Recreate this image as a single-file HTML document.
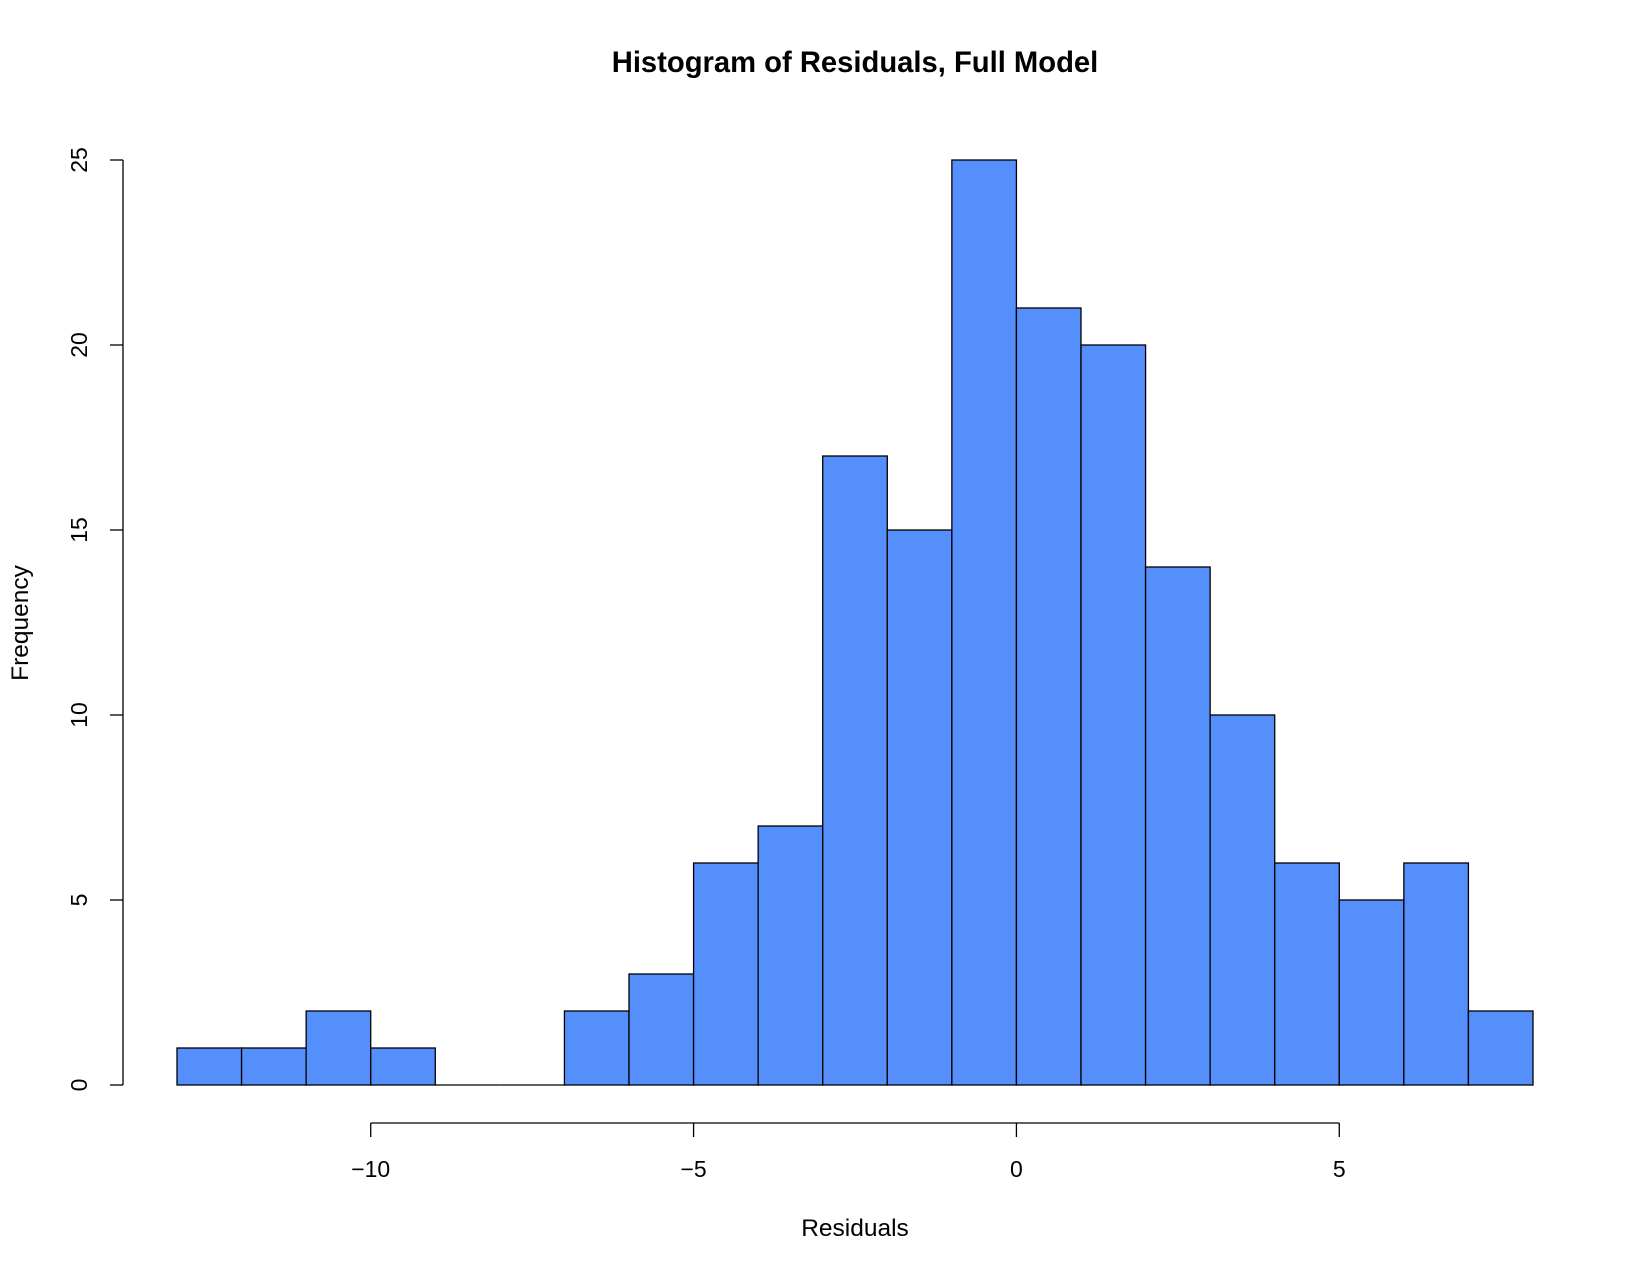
<!DOCTYPE html>
<html><head><meta charset="utf-8"><style>
body{margin:0;background:#fff}
svg text{font-family:"Liberation Sans",Arial,sans-serif;fill:#000}
</style></head><body>
<svg width="1650" height="1275" xmlns="http://www.w3.org/2000/svg">
<rect width="1650" height="1275" fill="#fff"/>
<text x="855" y="72" text-anchor="middle" font-size="29.2" font-weight="bold">Histogram of Residuals, Full Model</text>
<g id="bars"></g>
<g id="yaxis"></g>
<g id="xaxis"></g>
<text x="855" y="1236" text-anchor="middle" font-size="24.5">Residuals</text>
<text transform="translate(28,623) rotate(-90)" text-anchor="middle" font-size="24.5">Frequency</text>
</svg>
<script>
const binStart = -13;
const binWidth = 1;
const counts = [1,1,2,1,0,0,2,3,6,7,17,15,25,21,20,14,10,6,5,6,2];
const yTicks = [0,5,10,15,20,25];
const xTicks = [-10,-5,0,5];
const xTickLabels = ["\u221210","\u22125","0","5"];

const NS="http://www.w3.org/2000/svg";
const X0=177, X1=1533, xmin=-13, xmax=8;
const Y0=1085, Y1=160, ymax=25;
const sx=v=>X0+(v-xmin)*(X1-X0)/(xmax-xmin);
const sy=v=>Y0-v*(Y0-Y1)/ymax;
function mk(tag,attrs,parent){const e=document.createElementNS(NS,tag);for(const k in attrs)e.setAttribute(k,attrs[k]);parent.appendChild(e);return e;}
const bars=document.getElementById('bars');
counts.forEach((c,i)=>{
  const a=binStart+i*binWidth,b=a+binWidth;
  let r;
  if(c===0){
    r=mk('line',{x1:sx(a),x2:sx(b),y1:sy(0),y2:sy(0),stroke:'#000','stroke-width':1.3},bars);
  } else {
    r=mk('rect',{x:sx(a),y:sy(c),width:sx(b)-sx(a),height:sy(0)-sy(c),fill:'#558ffc',stroke:'#000','stroke-width':1.3},bars);
  }
  
  
});
const ya=document.getElementById('yaxis');
mk('line',{x1:123,x2:123,y1:sy(0),y2:sy(25),stroke:'#000','stroke-width':1.3},ya);
yTicks.forEach(t=>{
  mk('line',{x1:110,x2:123,y1:sy(t),y2:sy(t),stroke:'#000','stroke-width':1.3},ya);
  const tx=mk('text',{transform:`translate(87,${sy(t)}) rotate(-90)`,'text-anchor':'middle','font-size':23},ya);
  tx.textContent=t;
  
  
});
const xa=document.getElementById('xaxis');
mk('line',{x1:sx(xTicks[0]),x2:sx(xTicks[xTicks.length-1]),y1:1123,y2:1123,stroke:'#000','stroke-width':1.3},xa);
xTicks.forEach((t,i)=>{
  mk('line',{x1:sx(t),x2:sx(t),y1:1123,y2:1137,stroke:'#000','stroke-width':1.3},xa);
  const tx=mk('text',{x:sx(t),y:1177,'text-anchor':'middle','font-size':23},xa);
  tx.textContent=xTickLabels[i];
  
  
});
</script>
</body></html>
